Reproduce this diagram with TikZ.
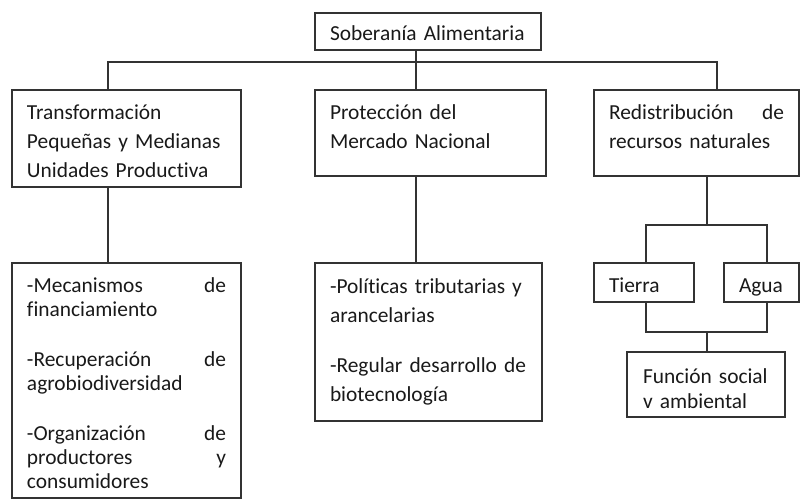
\documentclass[tikz,border=0pt]{standalone}
\usepackage{fontspec}
\setmainfont[Ligatures=NoCommon, WordSpace=0.85]{Carlito}
\tikzset{every picture/.style={line width=1.1pt}}

\begin{document}
\begin{tikzpicture}[x=1pt,y=-1pt,
    box/.style={draw=black!80, anchor=north west, outer sep=0pt, inner xsep=15pt,
      inner ysep=0pt, align=left, text=black!90, font=\fontsize{21.4}{29}\selectfont},
    tight/.style={font=\fontsize{21.4}{24}\selectfont}]
    \useasboundingbox (0,0) rectangle (801,501);
    \node[box, text width=196pt, text height=27pt, text depth=10pt] (sa) at (315,13) {Soberanía Alimentaria};
    \node[box, text width=199pt, text height=29pt, text depth=68pt] (tp) at (12,90)
        {Transformación\\ Pequeñas y Medianas\\ Unidades Productiva};
    \node[box, text width=201pt, text height=29pt, text depth=57pt] (pm) at (315,90)
        {Protección del\\ Mercado Nacional};
    \node[box, text width=175pt, text height=29pt, text depth=57pt] (rr) at (594,90)
        {Redistribución\hfill de\\ recursos naturales};
    \node[box, tight, text width=199pt, text height=29pt, text depth=206pt] (mf) at (12,263)
        {-Mecanismos\hfill de\\ financiamiento\\[26pt]
         -Recuperación\hfill de\\ agrobiodiversidad\\[26pt]
         -Organización\hfill de\\ productores\hfill y\\ consumidores};
    \node[box, text width=197pt, text height=30pt, text depth=128pt] (pt) at (315,263)
        {-Políticas tributarias y\\ arancelarias\\[21pt]
         -Regular desarrollo de\\ biotecnología};
    \node[box, text width=70pt, text height=29pt, text depth=10pt] (ti) at (594,263) {Tierra};
    \node[box, text width=45pt, text height=29pt, text depth=10pt] (ag) at (724,263) {Agua};
    \node[box, inner xsep=16pt, text width=126pt, text height=31pt, text depth=34pt] (fs) at (627,352)
        {Función social\\[-4pt] v ambiental};

    % ramas principales
    \coordinate (b1) at (108,62);
    \coordinate (b2) at (416,62);
    \coordinate (b3) at (717,62);
    \draw[draw=black!80] (b1 |- tp.north) -- (b1) -- (b3) -- (b3 |- rr.north);
    \draw[draw=black!80] (b2 |- sa.south) -- (b2 |- pm.north);
    \draw[draw=black!80] (b1 |- tp.south) -- (b1 |- mf.north);
    \draw[draw=black!80] (b2 |- pm.south) -- (b2 |- pt.north);

    % recursos naturales
    \coordinate (r1) at (707,225);
    \coordinate (r2) at (646,225);
    \coordinate (r3) at (767,225);
    \coordinate (s1) at (707,332);
    \coordinate (s2) at (646,332);
    \coordinate (s3) at (767,332);
    \draw[draw=black!80] (r1 |- rr.south) -- (r1);
    \draw[draw=black!80] (r2 |- ti.north) -- (r2) -- (r3) -- (r3 |- ag.north);
    \draw[draw=black!80] (s2 |- ti.south) -- (s2) -- (s3) -- (s3 |- ag.south);
    \draw[draw=black!80] (s1) -- (s1 |- fs.north);
\end{tikzpicture}
\end{document}
